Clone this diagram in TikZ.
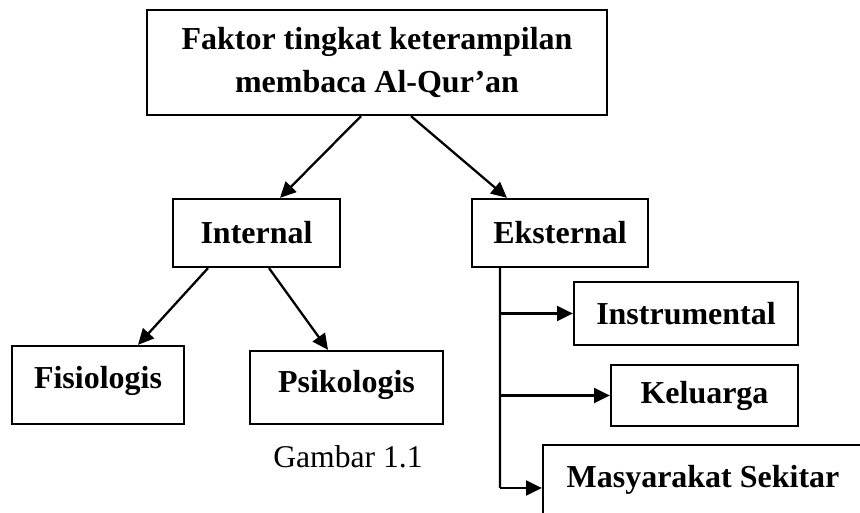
\documentclass[tikz,border=0pt]{standalone}
\usepackage{fontspec}
\setmainfont{Liberation Serif}
\usetikzlibrary{arrows.meta}

\begin{document}
\begin{tikzpicture}[line width=1.3pt,>={Triangle[length=9pt,width=8.5pt]},
  box/.style={rectangle,draw,inner sep=0pt,align=center,font=\bfseries\fontsize{18.2}{24.5}\selectfont}]
\useasboundingbox (0,0) rectangle (17.2,-10.26);
\clip (0,0) rectangle (17.2,-10.26);

\path (7.54,-1.25) node[box,minimum width=9.2cm,minimum height=2.1cm] (top) {Faktor tingkat keterampilan\\membaca Al-Qur'an};

\path (5.13,-4.66) node[box,minimum width=3.34cm,minimum height=1.36cm] (int) {Internal};
\draw[->] ([xshift=-0.32cm]top.south) -- ([xshift=0.47cm]int.north);
\path (11.2,-4.66) node[box,minimum width=3.52cm,minimum height=1.36cm] (eks) {Eksternal};
\draw[->] ([xshift=0.68cm]top.south) -- ([xshift=-1.06cm]eks.north);

\path (1.96,-7.7) node[box,minimum width=3.44cm,minimum height=1.56cm,text depth=0.3cm] (fis) {Fisiologis};
\draw[->] ([xshift=-0.97cm]int.south) -- ([xshift=0.8cm]fis.north);
\path (6.93,-7.75) node[box,minimum width=3.86cm,minimum height=1.46cm,text depth=0.25cm] (psi) {Psikologis};
\draw[->] ([xshift=0.25cm]int.south) -- ([xshift=-0.37cm]psi.north);

\coordinate (trunk) at ([xshift=-1.2cm]eks.south);
\coordinate (trunkend) at (10.0,-9.76);
\draw (trunk) -- (trunkend);

\path (13.72,-6.27) node[box,minimum width=4.48cm,minimum height=1.26cm] (inst) {Instrumental};
\draw[->] (trunk |- inst.west) -- (inst.west);
\path (14.09,-7.91) node[box,minimum width=3.74cm,minimum height=1.22cm] (kel) {Keluarga};
\draw[->] (trunk |- kel.west) -- (kel.west);
\path (14.06,-9.6) node[box,minimum width=6.4cm,minimum height=1.4cm] (mas) {Masyarakat Sekitar};
\draw[->] (trunkend) -- (trunkend -| mas.west);

\path (6.96,-9.14) node[font=\fontsize{18}{19}\selectfont] (fig) {Gambar 1.1};
\end{tikzpicture}
\end{document}
